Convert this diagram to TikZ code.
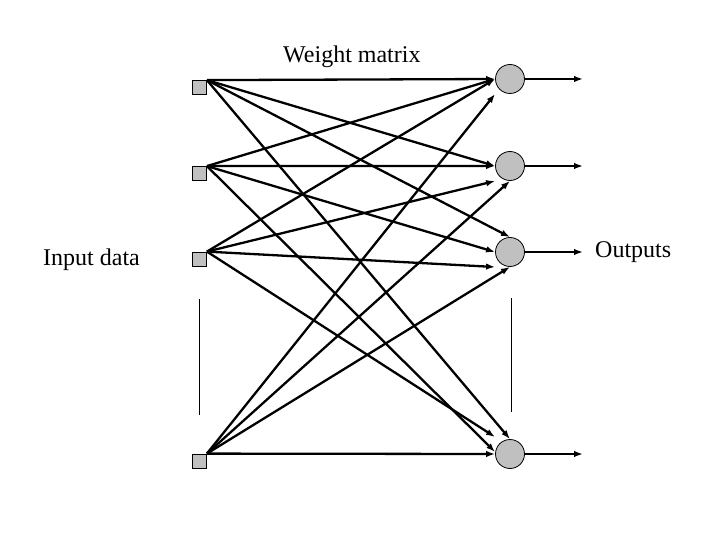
\documentclass[tikz,border=0pt]{standalone}
\usepackage{fontspec}
\setmainfont{Liberation Serif}
\usetikzlibrary{arrows.meta}
\definecolor{nodegray}{HTML}{C0C0C0}
\begin{document}
\begin{tikzpicture}[x=1pt,y=-1pt,
  inbox/.style={draw=black,line width=0.8pt,fill=nodegray,minimum size=14pt,inner sep=0pt,rectangle},
  neuron/.style={draw=black,line width=0.8pt,fill=nodegray,minimum size=29pt,inner sep=0pt,circle},
  wire/.style={line width=2.3pt,-{Latex[length=9pt,width=6.5pt]}},
  label/.style={font=\fontsize{24}{28}\selectfont,inner sep=0pt,anchor=base west},
  sep/.style={line width=0.7pt}]
\useasboundingbox (0,0) rectangle (720,540);
% inputs
\node[inbox] (s1) at (199.5,87.5) {};
\node[inbox] (s2) at (199.5,173.5) {};
\node[inbox] (s3) at (199.5,259) {};
\node[inbox] (s4) at (199.5,461) {};
% neurons
\node[neuron] (c1) at (510,79) {};
\node[neuron] (c2) at (510,166) {};
\node[neuron] (c3) at (510,252) {};
\node[neuron] (c4) at (510,454) {};
% output ends
\coordinate (o1) at (583,79);
\coordinate (o2) at (583,166);
\coordinate (o3) at (583,252);
\coordinate (o4) at (583,454);
% weights
\draw[wire] (s1.north east) -- (c1.west);
\draw[wire] (s2.north east) -- (c1.west);
\draw[wire] (s3.north east) -- (c1.west);
\draw[wire] (s4.north east) -- ([yshift=-15pt]c1.west);
\draw[wire] (s1.north east) -- (c2.west);
\draw[wire] (s2.north east) -- (c2.west);
\draw[wire] (s3.north east) -- ([yshift=-15pt]c2.west);
\draw[wire] (s4.north east) -- (c2.south);
\draw[wire] (s1.north east) -- (c3.north);
\draw[wire] (s2.north east) -- (c3.west);
\draw[wire] (s3.north east) -- ([yshift=-15pt]c3.west);
\draw[wire] (s4.north east) -- (c3.south);
\draw[wire] (s1.north east) -- (c4.north);
\draw[wire] (s2.north east) -- ([yshift=2pt]c4.west);
\draw[wire] (s3.north east) -- ([yshift=17pt]c4.west);
\draw[wire] (s4.north east) -- (c4.west);
% outputs
\draw[wire] (c1.east) -- (o1);
\draw[wire] (c2.east) -- (o2);
\draw[wire] (c3.east) -- (o3);
\draw[wire] (c4.east) -- (o4);
% ellipsis bars
\coordinate (l1) at (199,299);
\coordinate (l2) at (199,415);
\coordinate (r1) at (511,298);
\coordinate (r2) at (511,412);
\draw[sep] (l1) -- (l2);
\draw[sep] (r1) -- (r2);
% labels
\node[label] (wm) at (283,63) {Weight matrix};
\node[label] (id) at (43,265) {Input data};
\node[label] (op) at (595,258) {Outputs};
\end{tikzpicture}
\end{document}
